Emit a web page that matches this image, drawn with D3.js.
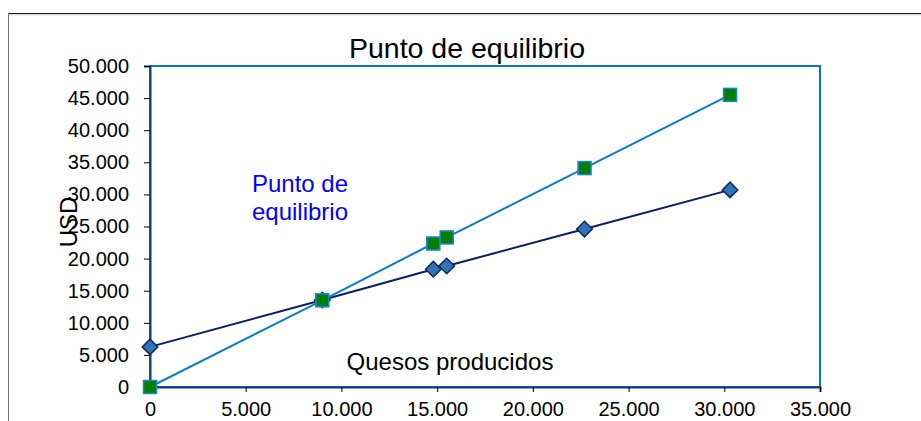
<!DOCTYPE html>
<html>
<head>
<meta charset="utf-8">
<script src="https://cdn.jsdelivr.net/npm/d3@7"></script>
<style>
  html, body { margin: 0; padding: 0; background: #fff; }
  svg { display: block; font-family: Arial, "Liberation Sans", sans-serif; }
</style>
</head>
<body>
<svg id="chart" width="921" height="421"></svg>
<script>
// Quesos producidos (eje X) y USD (eje Y)
const quesos = [0, 9000, 14800, 15500, 22700, 30300];
const costes = [6250, 13550, 18350, 18850, 24600, 30700];
const ingresos = [0, 13500, 22350, 23300, 34100, 45500];
const xTicks = [0, 5000, 10000, 15000, 20000, 25000, 30000, 35000];
const yTicks = [0, 5000, 10000, 15000, 20000, 25000, 30000, 35000, 40000, 45000, 50000];

const svg = d3.select("#chart");
const W = 921, H = 421;
const plot = { left: 150, right: 820, top: 66, bottom: 387 };

const es = d3.formatLocale({ decimal: ",", thousands: ".", grouping: [3], currency: ["", " €"] });
const fmt = es.format(",.0f");

const x = d3.scaleLinear().domain([0, 35000]).range([plot.left, plot.right]);
const y = d3.scaleLinear().domain([0, 50000]).range([plot.bottom, plot.top]);

// Chart frame (top and left edges only)
svg.append("line").attr("x1", 8).attr("x2", W).attr("y1", 14.5).attr("y2", 14.5)
  .attr("stroke", "#dcdcdc").attr("stroke-width", 2);
svg.append("line").attr("x1", 8).attr("x2", W).attr("y1", 13.5).attr("y2", 13.5)
  .attr("stroke", "#1a1a1a").attr("stroke-width", 1);
svg.append("line").attr("x1", 8.5).attr("x2", 8.5).attr("y1", 13).attr("y2", H)
  .attr("stroke", "#707070").attr("stroke-width", 1);

// Plot area border
svg.append("rect")
  .attr("x", plot.left).attr("y", plot.top)
  .attr("width", plot.right - plot.left).attr("height", plot.bottom - plot.top)
  .attr("fill", "none").attr("stroke", "#0a78c8").attr("stroke-width", 2);

// Axes
const yAxis = d3.axisLeft(y).tickValues(yTicks).tickFormat(fmt).tickSize(6).tickPadding(15);
const xAxis = d3.axisBottom(x).tickValues(xTicks).tickFormat(fmt).tickSize(5).tickPadding(10);

const gy = svg.append("g").attr("transform", `translate(${plot.left},0)`).call(yAxis);
const gx = svg.append("g").attr("transform", `translate(0,${plot.bottom})`).call(xAxis);

[gx, gy].forEach(g => {
  g.select(".domain").attr("stroke", "#0a3d78").attr("stroke-width", 2);
  g.selectAll(".tick line").attr("stroke", "#000").attr("stroke-width", 1);
  g.selectAll(".tick text").attr("fill", "#000").style("font-size", "20px")
    .style("font-family", "Arial, 'Liberation Sans', sans-serif");
});

// Series
const lineGen = d3.line().x(d => x(d[0])).y(d => y(d[1]));
const costPts = quesos.map((q, i) => [q, costes[i]]);
const revPts = quesos.map((q, i) => [q, ingresos[i]]);

svg.append("path").datum(costPts).attr("d", lineGen)
  .attr("fill", "none").attr("stroke", "#0b1f5e").attr("stroke-width", 2);
svg.append("path").datum(revPts).attr("d", lineGen)
  .attr("fill", "none").attr("stroke", "#0a7cc8").attr("stroke-width", 2);

// Diamond markers (costes)
svg.append("g").selectAll("path").data(costPts).join("path")
  .attr("transform", d => `translate(${x(d[0])},${y(d[1])}) rotate(45)`)
  .attr("d", "M-5.5,-5.5H5.5V5.5H-5.5Z")
  .attr("fill", "#3472b6").attr("stroke", "#0b2a66").attr("stroke-width", 1.5);

// Square markers (ingresos)
svg.append("g").selectAll("rect").data(revPts).join("rect")
  .attr("x", d => x(d[0]) - 6.5).attr("y", d => y(d[1]) - 6.5)
  .attr("width", 13).attr("height", 13)
  .attr("fill", "#008000").attr("stroke", "#1a84d6").attr("stroke-width", 1.5);

// Texts
svg.append("text").attr("x", 467).attr("y", 58).attr("text-anchor", "middle")
  .style("font-size", "28.5px").attr("fill", "#000").text("Punto de equilibrio");

svg.append("text").attr("transform", "translate(77,222) rotate(-90)")
  .attr("text-anchor", "middle").style("font-size", "24px").attr("fill", "#000").text("USD");

svg.append("text").attr("x", 450).attr("y", 370).attr("text-anchor", "middle")
  .style("font-size", "24px").attr("fill", "#000").text("Quesos producidos");

const note = svg.append("text").attr("text-anchor", "middle")
  .style("font-size", "24px").attr("fill", "#0000ff");
note.append("tspan").attr("x", 300).attr("y", 192).text("Punto de");
note.append("tspan").attr("x", 300).attr("y", 220).text("equilibrio");
</script>
</body>
</html>
